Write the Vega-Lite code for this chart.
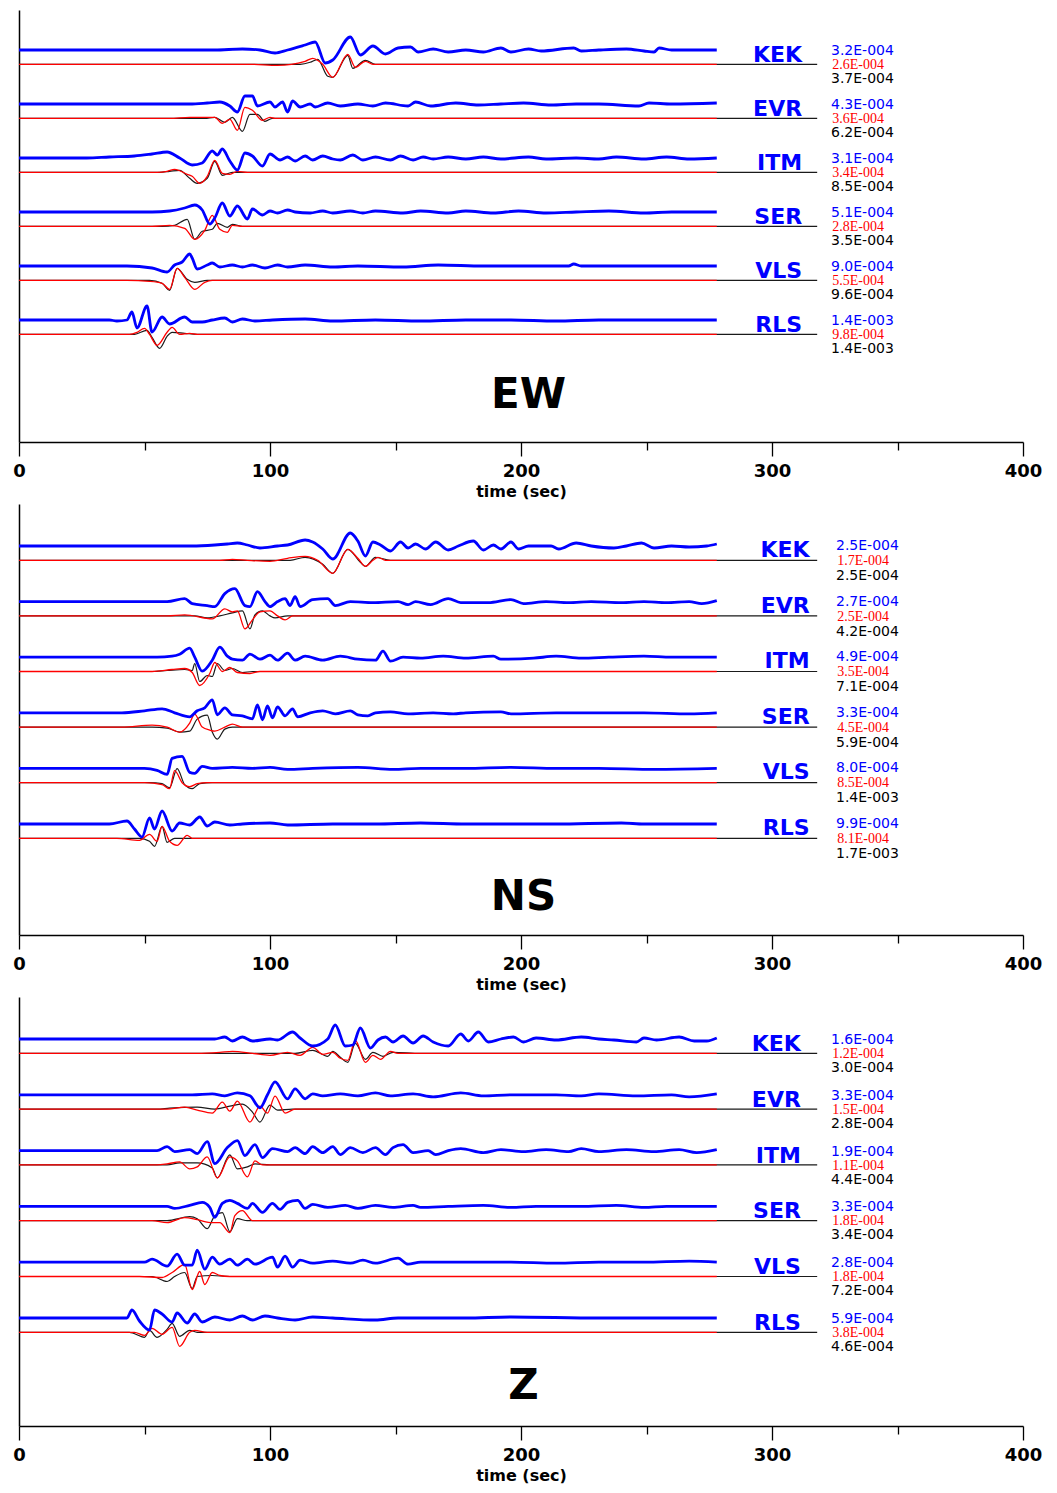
{
  "$schema": "https://vega.github.io/schema/vega-lite/v6.json",
  "background": "white",
  "padding": {"left": 12, "top": 10, "right": 5, "bottom": 5},
  "spacing": 5,
  "config": {"view": {"stroke": null}},
  "datasets": {
    "ew_obs": [
      {"s":"KEK","t":0,"v":0},{"s":"KEK","t":78,"v":0},{"s":"KEK","t":89,"v":1},{"s":"KEK","t":96,"v":0},{"s":"KEK","t":102,"v":-3},{"s":"KEK","t":107,"v":0},{"s":"KEK","t":114,"v":5},{"s":"KEK","t":118,"v":8},{"s":"KEK","t":122,"v":-13},{"s":"KEK","t":125,"v":-10},{"s":"KEK","t":132,"v":13},{"s":"KEK","t":136,"v":-5},{"s":"KEK","t":141,"v":4},{"s":"KEK","t":146,"v":-4},{"s":"KEK","t":151,"v":2},{"s":"KEK","t":156,"v":3},{"s":"KEK","t":159,"v":-2},{"s":"KEK","t":165,"v":1},{"s":"KEK","t":171,"v":-2},{"s":"KEK","t":178,"v":0},{"s":"KEK","t":185,"v":-2},{"s":"KEK","t":192,"v":2},{"s":"KEK","t":196,"v":-2},{"s":"KEK","t":203,"v":1},{"s":"KEK","t":208,"v":-1},{"s":"KEK","t":221,"v":2},{"s":"KEK","t":224,"v":-1},{"s":"KEK","t":231,"v":0},{"s":"KEK","t":242,"v":1},{"s":"KEK","t":249,"v":-1},{"s":"KEK","t":253,"v":-2},{"s":"KEK","t":255,"v":2},{"s":"KEK","t":260,"v":0},{"s":"KEK","t":278,"v":0},
      {"s":"EVR","t":0,"v":0},{"s":"EVR","t":60,"v":0},{"s":"EVR","t":68,"v":0},{"s":"EVR","t":75,"v":1},{"s":"EVR","t":80,"v":2},{"s":"EVR","t":84,"v":-2},{"s":"EVR","t":87,"v":-8},{"s":"EVR","t":90,"v":8},{"s":"EVR","t":93,"v":8},{"s":"EVR","t":95,"v":-2},{"s":"EVR","t":100,"v":2},{"s":"EVR","t":102,"v":-3},{"s":"EVR","t":105,"v":2},{"s":"EVR","t":107,"v":-8},{"s":"EVR","t":109,"v":3},{"s":"EVR","t":112,"v":-3},{"s":"EVR","t":116,"v":0},{"s":"EVR","t":118,"v":-3},{"s":"EVR","t":123,"v":1},{"s":"EVR","t":128,"v":-2},{"s":"EVR","t":135,"v":0},{"s":"EVR","t":141,"v":-2},{"s":"EVR","t":146,"v":1},{"s":"EVR","t":155,"v":-2},{"s":"EVR","t":158,"v":2},{"s":"EVR","t":164,"v":-2},{"s":"EVR","t":174,"v":1},{"s":"EVR","t":183,"v":-1},{"s":"EVR","t":192,"v":0},{"s":"EVR","t":201,"v":1},{"s":"EVR","t":212,"v":-1},{"s":"EVR","t":222,"v":0},{"s":"EVR","t":231,"v":0},{"s":"EVR","t":247,"v":-2},{"s":"EVR","t":251,"v":1},{"s":"EVR","t":260,"v":0},{"s":"EVR","t":278,"v":1},
      {"s":"ITM","t":0,"v":0},{"s":"ITM","t":27,"v":0},{"s":"ITM","t":36,"v":1},{"s":"ITM","t":46,"v":2},{"s":"ITM","t":53,"v":4},{"s":"ITM","t":59,"v":6},{"s":"ITM","t":64,"v":0},{"s":"ITM","t":69,"v":-7},{"s":"ITM","t":73,"v":-5},{"s":"ITM","t":77,"v":7},{"s":"ITM","t":79,"v":3},{"s":"ITM","t":81,"v":9},{"s":"ITM","t":84,"v":-3},{"s":"ITM","t":87,"v":-12},{"s":"ITM","t":90,"v":5},{"s":"ITM","t":93,"v":2},{"s":"ITM","t":97,"v":-8},{"s":"ITM","t":100,"v":4},{"s":"ITM","t":104,"v":-2},{"s":"ITM","t":107,"v":1},{"s":"ITM","t":110,"v":-3},{"s":"ITM","t":114,"v":2},{"s":"ITM","t":117,"v":-2},{"s":"ITM","t":121,"v":2},{"s":"ITM","t":125,"v":-1},{"s":"ITM","t":128,"v":-2},{"s":"ITM","t":133,"v":3},{"s":"ITM","t":137,"v":-2},{"s":"ITM","t":142,"v":1},{"s":"ITM","t":148,"v":-2},{"s":"ITM","t":152,"v":2},{"s":"ITM","t":157,"v":-2},{"s":"ITM","t":161,"v":1},{"s":"ITM","t":165,"v":-1},{"s":"ITM","t":171,"v":1},{"s":"ITM","t":178,"v":-1},{"s":"ITM","t":185,"v":1},{"s":"ITM","t":192,"v":-1},{"s":"ITM","t":203,"v":1},{"s":"ITM","t":210,"v":-1},{"s":"ITM","t":222,"v":0},{"s":"ITM","t":231,"v":-1},{"s":"ITM","t":238,"v":1},{"s":"ITM","t":249,"v":-1},{"s":"ITM","t":258,"v":1},{"s":"ITM","t":267,"v":-1},{"s":"ITM","t":278,"v":0},
      {"s":"SER","t":0,"v":0},{"s":"SER","t":53,"v":0},{"s":"SER","t":60,"v":1},{"s":"SER","t":66,"v":4},{"s":"SER","t":70,"v":7},{"s":"SER","t":73,"v":2},{"s":"SER","t":76,"v":-12},{"s":"SER","t":78,"v":-6},{"s":"SER","t":81,"v":9},{"s":"SER","t":84,"v":-4},{"s":"SER","t":87,"v":6},{"s":"SER","t":91,"v":-7},{"s":"SER","t":93,"v":3},{"s":"SER","t":97,"v":-3},{"s":"SER","t":100,"v":1},{"s":"SER","t":103,"v":-1},{"s":"SER","t":107,"v":2},{"s":"SER","t":110,"v":0},{"s":"SER","t":116,"v":-1},{"s":"SER","t":121,"v":1},{"s":"SER","t":125,"v":-1},{"s":"SER","t":132,"v":1},{"s":"SER","t":137,"v":-1},{"s":"SER","t":142,"v":1},{"s":"SER","t":153,"v":-1},{"s":"SER","t":160,"v":1},{"s":"SER","t":171,"v":-1},{"s":"SER","t":178,"v":1},{"s":"SER","t":189,"v":-1},{"s":"SER","t":199,"v":1},{"s":"SER","t":210,"v":-1},{"s":"SER","t":222,"v":0},{"s":"SER","t":235,"v":1},{"s":"SER","t":249,"v":-1},{"s":"SER","t":260,"v":0},{"s":"SER","t":278,"v":0},
      {"s":"VLS","t":0,"v":0},{"s":"VLS","t":43,"v":0},{"s":"VLS","t":53,"v":-2},{"s":"VLS","t":59,"v":-6},{"s":"VLS","t":62,"v":1},{"s":"VLS","t":65,"v":4},{"s":"VLS","t":68,"v":12},{"s":"VLS","t":69,"v":8},{"s":"VLS","t":71,"v":-3},{"s":"VLS","t":75,"v":1},{"s":"VLS","t":77,"v":3},{"s":"VLS","t":80,"v":-1},{"s":"VLS","t":85,"v":1},{"s":"VLS","t":89,"v":-1},{"s":"VLS","t":93,"v":1},{"s":"VLS","t":98,"v":-2},{"s":"VLS","t":103,"v":1},{"s":"VLS","t":107,"v":-1},{"s":"VLS","t":114,"v":1},{"s":"VLS","t":125,"v":-1},{"s":"VLS","t":135,"v":0},{"s":"VLS","t":153,"v":-1},{"s":"VLS","t":167,"v":1},{"s":"VLS","t":185,"v":0},{"s":"VLS","t":203,"v":0},{"s":"VLS","t":219,"v":0},{"s":"VLS","t":221,"v":2},{"s":"VLS","t":224,"v":0},{"s":"VLS","t":253,"v":0},{"s":"VLS","t":278,"v":0},
      {"s":"RLS","t":0,"v":0},{"s":"RLS","t":36,"v":0},{"s":"RLS","t":39,"v":-1},{"s":"RLS","t":43,"v":0},{"s":"RLS","t":45,"v":8},{"s":"RLS","t":47,"v":-8},{"s":"RLS","t":51,"v":14},{"s":"RLS","t":53,"v":-12},{"s":"RLS","t":57,"v":3},{"s":"RLS","t":60,"v":-4},{"s":"RLS","t":66,"v":3},{"s":"RLS","t":69,"v":-2},{"s":"RLS","t":73,"v":-2},{"s":"RLS","t":77,"v":0},{"s":"RLS","t":82,"v":2},{"s":"RLS","t":85,"v":-2},{"s":"RLS","t":89,"v":1},{"s":"RLS","t":94,"v":-1},{"s":"RLS","t":101,"v":0},{"s":"RLS","t":114,"v":1},{"s":"RLS","t":125,"v":-1},{"s":"RLS","t":142,"v":0},{"s":"RLS","t":160,"v":-1},{"s":"RLS","t":178,"v":0},{"s":"RLS","t":196,"v":0},{"s":"RLS","t":214,"v":-1},{"s":"RLS","t":231,"v":0},{"s":"RLS","t":278,"v":0}
    ],
    "ew_syn_a": [
      {"s":"KEK","t":0,"v":0},{"s":"KEK","t":92,"v":0},{"s":"KEK","t":103,"v":-1},{"s":"KEK","t":114,"v":3},{"s":"KEK","t":117,"v":6},{"s":"KEK","t":121,"v":0},{"s":"KEK","t":125,"v":-13},{"s":"KEK","t":131,"v":10},{"s":"KEK","t":134,"v":-3},{"s":"KEK","t":138,"v":3},{"s":"KEK","t":141,"v":0},{"s":"KEK","t":278,"v":0},
      {"s":"EVR","t":0,"v":0},{"s":"EVR","t":60,"v":0},{"s":"EVR","t":68,"v":1},{"s":"EVR","t":78,"v":1},{"s":"EVR","t":81,"v":-5},{"s":"EVR","t":84,"v":-1},{"s":"EVR","t":87,"v":-12},{"s":"EVR","t":90,"v":11},{"s":"EVR","t":93,"v":8},{"s":"EVR","t":97,"v":-2},{"s":"EVR","t":100,"v":1},{"s":"EVR","t":102,"v":0},{"s":"EVR","t":278,"v":0},
      {"s":"ITM","t":0,"v":0},{"s":"ITM","t":55,"v":0},{"s":"ITM","t":59,"v":1},{"s":"ITM","t":62,"v":3},{"s":"ITM","t":67,"v":-2},{"s":"ITM","t":69,"v":-4},{"s":"ITM","t":72,"v":-11},{"s":"ITM","t":75,"v":-4},{"s":"ITM","t":78,"v":12},{"s":"ITM","t":81,"v":-1},{"s":"ITM","t":84,"v":-2},{"s":"ITM","t":87,"v":1},{"s":"ITM","t":91,"v":0},{"s":"ITM","t":278,"v":0},
      {"s":"SER","t":0,"v":0},{"s":"SER","t":53,"v":0},{"s":"SER","t":60,"v":1},{"s":"SER","t":66,"v":-2},{"s":"SER","t":70,"v":-13},{"s":"SER","t":74,"v":-4},{"s":"SER","t":77,"v":11},{"s":"SER","t":80,"v":-3},{"s":"SER","t":83,"v":-6},{"s":"SER","t":85,"v":1},{"s":"SER","t":89,"v":0},{"s":"SER","t":278,"v":0},
      {"s":"VLS","t":0,"v":0},{"s":"VLS","t":43,"v":0},{"s":"VLS","t":52,"v":-1},{"s":"VLS","t":57,"v":-3},{"s":"VLS","t":60,"v":-9},{"s":"VLS","t":63,"v":12},{"s":"VLS","t":66,"v":3},{"s":"VLS","t":70,"v":-9},{"s":"VLS","t":74,"v":-2},{"s":"VLS","t":77,"v":0},{"s":"VLS","t":278,"v":0},
      {"s":"RLS","t":0,"v":0},{"s":"RLS","t":44,"v":0},{"s":"RLS","t":47,"v":2},{"s":"RLS","t":50,"v":6},{"s":"RLS","t":52,"v":0},{"s":"RLS","t":55,"v":-11},{"s":"RLS","t":59,"v":2},{"s":"RLS","t":61,"v":7},{"s":"RLS","t":64,"v":0},{"s":"RLS","t":68,"v":1},{"s":"RLS","t":71,"v":0},{"s":"RLS","t":278,"v":0}
    ],
    "ew_syn_b": [
      {"s":"KEK","t":0,"v":0},{"s":"KEK","t":112,"v":0},{"s":"KEK","t":116,"v":2},{"s":"KEK","t":119,"v":5},{"s":"KEK","t":123,"v":-12},{"s":"KEK","t":125,"v":-13},{"s":"KEK","t":131,"v":9},{"s":"KEK","t":133,"v":-4},{"s":"KEK","t":138,"v":4},{"s":"KEK","t":142,"v":0},{"s":"KEK","t":318,"v":0},
      {"s":"EVR","t":0,"v":0},{"s":"EVR","t":74,"v":0},{"s":"EVR","t":78,"v":1},{"s":"EVR","t":82,"v":-4},{"s":"EVR","t":85,"v":1},{"s":"EVR","t":89,"v":-13},{"s":"EVR","t":92,"v":4},{"s":"EVR","t":95,"v":4},{"s":"EVR","t":98,"v":-3},{"s":"EVR","t":101,"v":0},{"s":"EVR","t":318,"v":0},
      {"s":"ITM","t":0,"v":0},{"s":"ITM","t":56,"v":0},{"s":"ITM","t":60,"v":1},{"s":"ITM","t":64,"v":2},{"s":"ITM","t":68,"v":-6},{"s":"ITM","t":71,"v":-11},{"s":"ITM","t":75,"v":-6},{"s":"ITM","t":78,"v":11},{"s":"ITM","t":81,"v":-3},{"s":"ITM","t":85,"v":0},{"s":"ITM","t":318,"v":0},
      {"s":"SER","t":0,"v":0},{"s":"SER","t":57,"v":0},{"s":"SER","t":62,"v":1},{"s":"SER","t":67,"v":7},{"s":"SER","t":70,"v":-13},{"s":"SER","t":73,"v":-5},{"s":"SER","t":77,"v":-3},{"s":"SER","t":79,"v":3},{"s":"SER","t":83,"v":-1},{"s":"SER","t":85,"v":2},{"s":"SER","t":89,"v":0},{"s":"SER","t":318,"v":0},
      {"s":"VLS","t":0,"v":0},{"s":"VLS","t":52,"v":0},{"s":"VLS","t":57,"v":-3},{"s":"VLS","t":60,"v":-10},{"s":"VLS","t":63,"v":12},{"s":"VLS","t":67,"v":1},{"s":"VLS","t":70,"v":-2},{"s":"VLS","t":75,"v":0},{"s":"VLS","t":318,"v":0},
      {"s":"RLS","t":0,"v":0},{"s":"RLS","t":46,"v":0},{"s":"RLS","t":51,"v":4},{"s":"RLS","t":53,"v":-3},{"s":"RLS","t":56,"v":-14},{"s":"RLS","t":59,"v":-2},{"s":"RLS","t":61,"v":2},{"s":"RLS","t":66,"v":1},{"s":"RLS","t":71,"v":0},{"s":"RLS","t":318,"v":0}
    ],
    "ns_obs": [
      {"s":"KEK","t":0,"v":0},{"s":"KEK","t":69,"v":0},{"s":"KEK","t":78,"v":1},{"s":"KEK","t":83,"v":2},{"s":"KEK","t":87,"v":3},{"s":"KEK","t":91,"v":1},{"s":"KEK","t":96,"v":-2},{"s":"KEK","t":103,"v":0},{"s":"KEK","t":107,"v":1},{"s":"KEK","t":114,"v":6},{"s":"KEK","t":117,"v":4},{"s":"KEK","t":121,"v":-3},{"s":"KEK","t":125,"v":-13},{"s":"KEK","t":132,"v":13},{"s":"KEK","t":135,"v":5},{"s":"KEK","t":138,"v":-10},{"s":"KEK","t":141,"v":4},{"s":"KEK","t":144,"v":1},{"s":"KEK","t":148,"v":-5},{"s":"KEK","t":152,"v":4},{"s":"KEK","t":155,"v":-2},{"s":"KEK","t":158,"v":2},{"s":"KEK","t":162,"v":-3},{"s":"KEK","t":166,"v":4},{"s":"KEK","t":171,"v":-4},{"s":"KEK","t":175,"v":0},{"s":"KEK","t":181,"v":5},{"s":"KEK","t":185,"v":-4},{"s":"KEK","t":189,"v":1},{"s":"KEK","t":192,"v":-3},{"s":"KEK","t":196,"v":4},{"s":"KEK","t":199,"v":-3},{"s":"KEK","t":203,"v":0},{"s":"KEK","t":212,"v":0},{"s":"KEK","t":215,"v":-3},{"s":"KEK","t":222,"v":3},{"s":"KEK","t":228,"v":0},{"s":"KEK","t":237,"v":-2},{"s":"KEK","t":242,"v":0},{"s":"KEK","t":248,"v":3},{"s":"KEK","t":253,"v":-2},{"s":"KEK","t":260,"v":0},{"s":"KEK","t":267,"v":-1},{"s":"KEK","t":274,"v":0},{"s":"KEK","t":278,"v":2},
      {"s":"EVR","t":0,"v":0},{"s":"EVR","t":59,"v":0},{"s":"EVR","t":66,"v":3},{"s":"EVR","t":69,"v":-2},{"s":"EVR","t":75,"v":-4},{"s":"EVR","t":78,"v":-5},{"s":"EVR","t":82,"v":8},{"s":"EVR","t":86,"v":13},{"s":"EVR","t":90,"v":-4},{"s":"EVR","t":92,"v":-5},{"s":"EVR","t":95,"v":10},{"s":"EVR","t":98,"v":0},{"s":"EVR","t":100,"v":-5},{"s":"EVR","t":103,"v":0},{"s":"EVR","t":106,"v":3},{"s":"EVR","t":108,"v":-4},{"s":"EVR","t":110,"v":5},{"s":"EVR","t":112,"v":-5},{"s":"EVR","t":117,"v":2},{"s":"EVR","t":123,"v":3},{"s":"EVR","t":126,"v":-4},{"s":"EVR","t":132,"v":0},{"s":"EVR","t":141,"v":-1},{"s":"EVR","t":151,"v":0},{"s":"EVR","t":155,"v":-3},{"s":"EVR","t":158,"v":0},{"s":"EVR","t":164,"v":-3},{"s":"EVR","t":171,"v":3},{"s":"EVR","t":176,"v":-1},{"s":"EVR","t":187,"v":-1},{"s":"EVR","t":196,"v":2},{"s":"EVR","t":201,"v":-2},{"s":"EVR","t":210,"v":0},{"s":"EVR","t":219,"v":-1},{"s":"EVR","t":228,"v":0},{"s":"EVR","t":240,"v":-1},{"s":"EVR","t":249,"v":0},{"s":"EVR","t":258,"v":-1},{"s":"EVR","t":267,"v":0},{"s":"EVR","t":272,"v":-2},{"s":"EVR","t":278,"v":1},
      {"s":"ITM","t":0,"v":0},{"s":"ITM","t":55,"v":0},{"s":"ITM","t":61,"v":1},{"s":"ITM","t":64,"v":3},{"s":"ITM","t":68,"v":9},{"s":"ITM","t":70,"v":0},{"s":"ITM","t":73,"v":-14},{"s":"ITM","t":77,"v":-3},{"s":"ITM","t":80,"v":10},{"s":"ITM","t":83,"v":1},{"s":"ITM","t":85,"v":-2},{"s":"ITM","t":89,"v":-3},{"s":"ITM","t":92,"v":3},{"s":"ITM","t":96,"v":-2},{"s":"ITM","t":100,"v":2},{"s":"ITM","t":103,"v":-3},{"s":"ITM","t":107,"v":4},{"s":"ITM","t":110,"v":-3},{"s":"ITM","t":114,"v":1},{"s":"ITM","t":121,"v":-3},{"s":"ITM","t":128,"v":1},{"s":"ITM","t":135,"v":-2},{"s":"ITM","t":142,"v":-3},{"s":"ITM","t":145,"v":6},{"s":"ITM","t":148,"v":-4},{"s":"ITM","t":153,"v":0},{"s":"ITM","t":160,"v":-1},{"s":"ITM","t":169,"v":1},{"s":"ITM","t":178,"v":-1},{"s":"ITM","t":189,"v":1},{"s":"ITM","t":192,"v":-2},{"s":"ITM","t":205,"v":-1},{"s":"ITM","t":214,"v":1},{"s":"ITM","t":224,"v":-1},{"s":"ITM","t":235,"v":0},{"s":"ITM","t":249,"v":1},{"s":"ITM","t":260,"v":0},{"s":"ITM","t":278,"v":0},
      {"s":"SER","t":0,"v":0},{"s":"SER","t":41,"v":0},{"s":"SER","t":50,"v":2},{"s":"SER","t":57,"v":4},{"s":"SER","t":62,"v":0},{"s":"SER","t":68,"v":-4},{"s":"SER","t":71,"v":2},{"s":"SER","t":74,"v":5},{"s":"SER","t":77,"v":13},{"s":"SER","t":79,"v":-2},{"s":"SER","t":82,"v":5},{"s":"SER","t":85,"v":-2},{"s":"SER","t":89,"v":-3},{"s":"SER","t":93,"v":-6},{"s":"SER","t":95,"v":8},{"s":"SER","t":97,"v":-7},{"s":"SER","t":99,"v":7},{"s":"SER","t":101,"v":-5},{"s":"SER","t":103,"v":6},{"s":"SER","t":106,"v":-3},{"s":"SER","t":109,"v":4},{"s":"SER","t":111,"v":-4},{"s":"SER","t":116,"v":0},{"s":"SER","t":121,"v":2},{"s":"SER","t":126,"v":-1},{"s":"SER","t":132,"v":2},{"s":"SER","t":135,"v":-2},{"s":"SER","t":139,"v":-3},{"s":"SER","t":142,"v":0},{"s":"SER","t":148,"v":1},{"s":"SER","t":155,"v":-1},{"s":"SER","t":165,"v":0},{"s":"SER","t":173,"v":-1},{"s":"SER","t":178,"v":0},{"s":"SER","t":192,"v":1},{"s":"SER","t":196,"v":-1},{"s":"SER","t":214,"v":0},{"s":"SER","t":231,"v":0},{"s":"SER","t":249,"v":0},{"s":"SER","t":267,"v":-1},{"s":"SER","t":278,"v":0},
      {"s":"VLS","t":0,"v":0},{"s":"VLS","t":50,"v":0},{"s":"VLS","t":55,"v":-2},{"s":"VLS","t":59,"v":-6},{"s":"VLS","t":61,"v":10},{"s":"VLS","t":65,"v":12},{"s":"VLS","t":68,"v":-4},{"s":"VLS","t":70,"v":-5},{"s":"VLS","t":73,"v":2},{"s":"VLS","t":77,"v":0},{"s":"VLS","t":85,"v":1},{"s":"VLS","t":93,"v":0},{"s":"VLS","t":100,"v":1},{"s":"VLS","t":107,"v":-1},{"s":"VLS","t":117,"v":0},{"s":"VLS","t":135,"v":1},{"s":"VLS","t":149,"v":-1},{"s":"VLS","t":160,"v":0},{"s":"VLS","t":178,"v":0},{"s":"VLS","t":196,"v":1},{"s":"VLS","t":214,"v":0},{"s":"VLS","t":231,"v":0},{"s":"VLS","t":253,"v":-1},{"s":"VLS","t":278,"v":0},
      {"s":"RLS","t":0,"v":0},{"s":"RLS","t":36,"v":0},{"s":"RLS","t":43,"v":3},{"s":"RLS","t":46,"v":-5},{"s":"RLS","t":49,"v":-13},{"s":"RLS","t":52,"v":6},{"s":"RLS","t":54,"v":-5},{"s":"RLS","t":57,"v":13},{"s":"RLS","t":61,"v":-7},{"s":"RLS","t":64,"v":1},{"s":"RLS","t":68,"v":-1},{"s":"RLS","t":72,"v":7},{"s":"RLS","t":75,"v":-2},{"s":"RLS","t":78,"v":2},{"s":"RLS","t":84,"v":-1},{"s":"RLS","t":89,"v":0},{"s":"RLS","t":100,"v":1},{"s":"RLS","t":107,"v":-1},{"s":"RLS","t":125,"v":0},{"s":"RLS","t":142,"v":0},{"s":"RLS","t":160,"v":1},{"s":"RLS","t":178,"v":0},{"s":"RLS","t":214,"v":0},{"s":"RLS","t":240,"v":1},{"s":"RLS","t":249,"v":0},{"s":"RLS","t":278,"v":0}
    ],
    "ns_syn_a": [
      {"s":"KEK","t":0,"v":0},{"s":"KEK","t":80,"v":0},{"s":"KEK","t":85,"v":1},{"s":"KEK","t":91,"v":0},{"s":"KEK","t":100,"v":-1},{"s":"KEK","t":107,"v":2},{"s":"KEK","t":114,"v":4},{"s":"KEK","t":119,"v":0},{"s":"KEK","t":125,"v":-13},{"s":"KEK","t":131,"v":11},{"s":"KEK","t":135,"v":2},{"s":"KEK","t":138,"v":-6},{"s":"KEK","t":141,"v":0},{"s":"KEK","t":143,"v":3},{"s":"KEK","t":146,"v":0},{"s":"KEK","t":278,"v":0},
      {"s":"EVR","t":0,"v":0},{"s":"EVR","t":59,"v":0},{"s":"EVR","t":66,"v":1},{"s":"EVR","t":77,"v":-3},{"s":"EVR","t":82,"v":7},{"s":"EVR","t":85,"v":4},{"s":"EVR","t":87,"v":5},{"s":"EVR","t":90,"v":-13},{"s":"EVR","t":93,"v":-4},{"s":"EVR","t":96,"v":4},{"s":"EVR","t":100,"v":5},{"s":"EVR","t":103,"v":0},{"s":"EVR","t":106,"v":-4},{"s":"EVR","t":109,"v":0},{"s":"EVR","t":278,"v":0},
      {"s":"ITM","t":0,"v":0},{"s":"ITM","t":53,"v":0},{"s":"ITM","t":61,"v":2},{"s":"ITM","t":66,"v":3},{"s":"ITM","t":69,"v":-1},{"s":"ITM","t":72,"v":-14},{"s":"ITM","t":76,"v":-2},{"s":"ITM","t":78,"v":9},{"s":"ITM","t":81,"v":0},{"s":"ITM","t":84,"v":4},{"s":"ITM","t":87,"v":-1},{"s":"ITM","t":92,"v":-2},{"s":"ITM","t":96,"v":0},{"s":"ITM","t":278,"v":0},
      {"s":"SER","t":0,"v":0},{"s":"SER","t":41,"v":0},{"s":"SER","t":53,"v":2},{"s":"SER","t":59,"v":0},{"s":"SER","t":64,"v":-5},{"s":"SER","t":68,"v":4},{"s":"SER","t":70,"v":13},{"s":"SER","t":73,"v":0},{"s":"SER","t":76,"v":-3},{"s":"SER","t":78,"v":-4},{"s":"SER","t":82,"v":0},{"s":"SER","t":85,"v":3},{"s":"SER","t":89,"v":0},{"s":"SER","t":278,"v":0},
      {"s":"VLS","t":0,"v":0},{"s":"VLS","t":50,"v":0},{"s":"VLS","t":57,"v":-2},{"s":"VLS","t":60,"v":-6},{"s":"VLS","t":62,"v":12},{"s":"VLS","t":65,"v":0},{"s":"VLS","t":68,"v":-4},{"s":"VLS","t":71,"v":-1},{"s":"VLS","t":75,"v":0},{"s":"VLS","t":278,"v":0},
      {"s":"RLS","t":0,"v":0},{"s":"RLS","t":39,"v":0},{"s":"RLS","t":48,"v":-2},{"s":"RLS","t":52,"v":4},{"s":"RLS","t":55,"v":-3},{"s":"RLS","t":57,"v":12},{"s":"RLS","t":60,"v":-3},{"s":"RLS","t":63,"v":-7},{"s":"RLS","t":67,"v":3},{"s":"RLS","t":69,"v":0},{"s":"RLS","t":278,"v":0}
    ],
    "ns_syn_b": [
      {"s":"KEK","t":0,"v":0},{"s":"KEK","t":108,"v":0},{"s":"KEK","t":114,"v":3},{"s":"KEK","t":121,"v":-4},{"s":"KEK","t":125,"v":-13},{"s":"KEK","t":131,"v":11},{"s":"KEK","t":136,"v":-2},{"s":"KEK","t":138,"v":-6},{"s":"KEK","t":142,"v":3},{"s":"KEK","t":148,"v":0},{"s":"KEK","t":318,"v":0},
      {"s":"EVR","t":0,"v":0},{"s":"EVR","t":70,"v":0},{"s":"EVR","t":75,"v":-2},{"s":"EVR","t":80,"v":0},{"s":"EVR","t":85,"v":3},{"s":"EVR","t":89,"v":5},{"s":"EVR","t":92,"v":-13},{"s":"EVR","t":94,"v":1},{"s":"EVR","t":97,"v":5},{"s":"EVR","t":100,"v":0},{"s":"EVR","t":102,"v":-2},{"s":"EVR","t":107,"v":0},{"s":"EVR","t":318,"v":0},
      {"s":"ITM","t":0,"v":0},{"s":"ITM","t":53,"v":0},{"s":"ITM","t":59,"v":1},{"s":"ITM","t":66,"v":2},{"s":"ITM","t":69,"v":1},{"s":"ITM","t":70,"v":8},{"s":"ITM","t":72,"v":-10},{"s":"ITM","t":75,"v":-4},{"s":"ITM","t":77,"v":-5},{"s":"ITM","t":79,"v":8},{"s":"ITM","t":82,"v":1},{"s":"ITM","t":85,"v":3},{"s":"ITM","t":89,"v":-1},{"s":"ITM","t":93,"v":0},{"s":"ITM","t":318,"v":0},
      {"s":"SER","t":0,"v":0},{"s":"SER","t":53,"v":0},{"s":"SER","t":59,"v":-1},{"s":"SER","t":64,"v":-5},{"s":"SER","t":68,"v":-4},{"s":"SER","t":71,"v":8},{"s":"SER","t":75,"v":12},{"s":"SER","t":77,"v":-5},{"s":"SER","t":79,"v":-12},{"s":"SER","t":82,"v":-2},{"s":"SER","t":85,"v":0},{"s":"SER","t":318,"v":0},
      {"s":"VLS","t":0,"v":0},{"s":"VLS","t":52,"v":0},{"s":"VLS","t":57,"v":-1},{"s":"VLS","t":60,"v":-5},{"s":"VLS","t":63,"v":14},{"s":"VLS","t":66,"v":-2},{"s":"VLS","t":69,"v":-6},{"s":"VLS","t":72,"v":-1},{"s":"VLS","t":77,"v":0},{"s":"VLS","t":318,"v":0},
      {"s":"RLS","t":0,"v":0},{"s":"RLS","t":48,"v":0},{"s":"RLS","t":52,"v":-3},{"s":"RLS","t":54,"v":-8},{"s":"RLS","t":57,"v":12},{"s":"RLS","t":59,"v":-4},{"s":"RLS","t":62,"v":0},{"s":"RLS","t":318,"v":0}
    ],
    "z_obs": [
      {"s":"KEK","t":0,"v":0},{"s":"KEK","t":70,"v":0},{"s":"KEK","t":78,"v":0},{"s":"KEK","t":82,"v":2},{"s":"KEK","t":85,"v":-2},{"s":"KEK","t":89,"v":2},{"s":"KEK","t":93,"v":-2},{"s":"KEK","t":100,"v":0},{"s":"KEK","t":103,"v":-1},{"s":"KEK","t":109,"v":7},{"s":"KEK","t":112,"v":1},{"s":"KEK","t":117,"v":-7},{"s":"KEK","t":123,"v":0},{"s":"KEK","t":126,"v":14},{"s":"KEK","t":130,"v":-7},{"s":"KEK","t":133,"v":-6},{"s":"KEK","t":136,"v":11},{"s":"KEK","t":140,"v":-9},{"s":"KEK","t":143,"v":-1},{"s":"KEK","t":146,"v":2},{"s":"KEK","t":149,"v":-3},{"s":"KEK","t":153,"v":3},{"s":"KEK","t":157,"v":-4},{"s":"KEK","t":161,"v":3},{"s":"KEK","t":165,"v":-3},{"s":"KEK","t":171,"v":-7},{"s":"KEK","t":176,"v":5},{"s":"KEK","t":179,"v":-2},{"s":"KEK","t":183,"v":7},{"s":"KEK","t":187,"v":-3},{"s":"KEK","t":192,"v":0},{"s":"KEK","t":197,"v":2},{"s":"KEK","t":201,"v":-3},{"s":"KEK","t":206,"v":1},{"s":"KEK","t":214,"v":-1},{"s":"KEK","t":224,"v":2},{"s":"KEK","t":231,"v":0},{"s":"KEK","t":237,"v":-1},{"s":"KEK","t":246,"v":-3},{"s":"KEK","t":249,"v":1},{"s":"KEK","t":254,"v":-1},{"s":"KEK","t":263,"v":2},{"s":"KEK","t":269,"v":-2},{"s":"KEK","t":274,"v":-2},{"s":"KEK","t":278,"v":1},
      {"s":"EVR","t":0,"v":0},{"s":"EVR","t":69,"v":0},{"s":"EVR","t":77,"v":1},{"s":"EVR","t":82,"v":-1},{"s":"EVR","t":87,"v":2},{"s":"EVR","t":92,"v":-1},{"s":"EVR","t":96,"v":-13},{"s":"EVR","t":99,"v":0},{"s":"EVR","t":102,"v":13},{"s":"EVR","t":107,"v":-4},{"s":"EVR","t":110,"v":6},{"s":"EVR","t":114,"v":-4},{"s":"EVR","t":117,"v":1},{"s":"EVR","t":121,"v":-1},{"s":"EVR","t":128,"v":1},{"s":"EVR","t":135,"v":-1},{"s":"EVR","t":142,"v":2},{"s":"EVR","t":148,"v":-1},{"s":"EVR","t":157,"v":1},{"s":"EVR","t":165,"v":-2},{"s":"EVR","t":176,"v":2},{"s":"EVR","t":185,"v":-1},{"s":"EVR","t":196,"v":0},{"s":"EVR","t":214,"v":0},{"s":"EVR","t":224,"v":-1},{"s":"EVR","t":231,"v":1},{"s":"EVR","t":246,"v":-1},{"s":"EVR","t":260,"v":0},{"s":"EVR","t":267,"v":-2},{"s":"EVR","t":278,"v":1},
      {"s":"ITM","t":0,"v":0},{"s":"ITM","t":55,"v":0},{"s":"ITM","t":59,"v":4},{"s":"ITM","t":62,"v":-1},{"s":"ITM","t":68,"v":1},{"s":"ITM","t":71,"v":-3},{"s":"ITM","t":75,"v":9},{"s":"ITM","t":78,"v":-13},{"s":"ITM","t":83,"v":3},{"s":"ITM","t":87,"v":10},{"s":"ITM","t":90,"v":-5},{"s":"ITM","t":94,"v":6},{"s":"ITM","t":97,"v":-7},{"s":"ITM","t":101,"v":2},{"s":"ITM","t":107,"v":-1},{"s":"ITM","t":110,"v":3},{"s":"ITM","t":114,"v":-3},{"s":"ITM","t":117,"v":4},{"s":"ITM","t":121,"v":-2},{"s":"ITM","t":125,"v":4},{"s":"ITM","t":128,"v":-4},{"s":"ITM","t":132,"v":3},{"s":"ITM","t":137,"v":-2},{"s":"ITM","t":142,"v":3},{"s":"ITM","t":146,"v":-4},{"s":"ITM","t":149,"v":3},{"s":"ITM","t":153,"v":6},{"s":"ITM","t":157,"v":-2},{"s":"ITM","t":163,"v":0},{"s":"ITM","t":166,"v":-4},{"s":"ITM","t":171,"v":0},{"s":"ITM","t":176,"v":2},{"s":"ITM","t":185,"v":-2},{"s":"ITM","t":192,"v":1},{"s":"ITM","t":201,"v":-1},{"s":"ITM","t":210,"v":1},{"s":"ITM","t":219,"v":-1},{"s":"ITM","t":224,"v":2},{"s":"ITM","t":231,"v":-1},{"s":"ITM","t":242,"v":1},{"s":"ITM","t":253,"v":-1},{"s":"ITM","t":263,"v":1},{"s":"ITM","t":270,"v":-2},{"s":"ITM","t":278,"v":1},
      {"s":"SER","t":0,"v":0},{"s":"SER","t":59,"v":0},{"s":"SER","t":62,"v":-2},{"s":"SER","t":68,"v":1},{"s":"SER","t":73,"v":4},{"s":"SER","t":76,"v":-1},{"s":"SER","t":78,"v":-11},{"s":"SER","t":81,"v":3},{"s":"SER","t":84,"v":6},{"s":"SER","t":87,"v":3},{"s":"SER","t":91,"v":-2},{"s":"SER","t":93,"v":3},{"s":"SER","t":97,"v":-6},{"s":"SER","t":101,"v":3},{"s":"SER","t":104,"v":-3},{"s":"SER","t":107,"v":4},{"s":"SER","t":111,"v":6},{"s":"SER","t":114,"v":-2},{"s":"SER","t":117,"v":2},{"s":"SER","t":123,"v":-1},{"s":"SER","t":130,"v":1},{"s":"SER","t":135,"v":-2},{"s":"SER","t":142,"v":1},{"s":"SER","t":149,"v":-1},{"s":"SER","t":157,"v":1},{"s":"SER","t":160,"v":-1},{"s":"SER","t":171,"v":0},{"s":"SER","t":185,"v":1},{"s":"SER","t":196,"v":-1},{"s":"SER","t":206,"v":0},{"s":"SER","t":224,"v":0},{"s":"SER","t":238,"v":1},{"s":"SER","t":249,"v":-1},{"s":"SER","t":258,"v":0},{"s":"SER","t":278,"v":0},
      {"s":"VLS","t":0,"v":0},{"s":"VLS","t":50,"v":0},{"s":"VLS","t":53,"v":3},{"s":"VLS","t":59,"v":-4},{"s":"VLS","t":63,"v":8},{"s":"VLS","t":66,"v":-3},{"s":"VLS","t":69,"v":-3},{"s":"VLS","t":71,"v":12},{"s":"VLS","t":74,"v":-7},{"s":"VLS","t":77,"v":5},{"s":"VLS","t":80,"v":-2},{"s":"VLS","t":84,"v":3},{"s":"VLS","t":87,"v":-3},{"s":"VLS","t":91,"v":3},{"s":"VLS","t":94,"v":-2},{"s":"VLS","t":101,"v":5},{"s":"VLS","t":103,"v":-5},{"s":"VLS","t":106,"v":6},{"s":"VLS","t":109,"v":-5},{"s":"VLS","t":112,"v":2},{"s":"VLS","t":117,"v":-1},{"s":"VLS","t":125,"v":1},{"s":"VLS","t":132,"v":-1},{"s":"VLS","t":137,"v":2},{"s":"VLS","t":142,"v":-1},{"s":"VLS","t":151,"v":4},{"s":"VLS","t":155,"v":-2},{"s":"VLS","t":160,"v":0},{"s":"VLS","t":178,"v":0},{"s":"VLS","t":196,"v":0},{"s":"VLS","t":214,"v":-1},{"s":"VLS","t":231,"v":0},{"s":"VLS","t":249,"v":0},{"s":"VLS","t":267,"v":1},{"s":"VLS","t":278,"v":0},
      {"s":"RLS","t":0,"v":0},{"s":"RLS","t":36,"v":0},{"s":"RLS","t":43,"v":0},{"s":"RLS","t":45,"v":8},{"s":"RLS","t":48,"v":-3},{"s":"RLS","t":52,"v":-12},{"s":"RLS","t":54,"v":8},{"s":"RLS","t":57,"v":4},{"s":"RLS","t":61,"v":-4},{"s":"RLS","t":63,"v":5},{"s":"RLS","t":67,"v":-5},{"s":"RLS","t":70,"v":4},{"s":"RLS","t":73,"v":-4},{"s":"RLS","t":78,"v":1},{"s":"RLS","t":84,"v":-2},{"s":"RLS","t":89,"v":2},{"s":"RLS","t":93,"v":-2},{"s":"RLS","t":98,"v":2},{"s":"RLS","t":103,"v":0},{"s":"RLS","t":110,"v":-2},{"s":"RLS","t":117,"v":1},{"s":"RLS","t":125,"v":0},{"s":"RLS","t":142,"v":-2},{"s":"RLS","t":151,"v":0},{"s":"RLS","t":178,"v":0},{"s":"RLS","t":196,"v":1},{"s":"RLS","t":231,"v":0},{"s":"RLS","t":278,"v":0}
    ],
    "z_syn_a": [
      {"s":"KEK","t":0,"v":0},{"s":"KEK","t":71,"v":0},{"s":"KEK","t":80,"v":1},{"s":"KEK","t":85,"v":2},{"s":"KEK","t":93,"v":0},{"s":"KEK","t":100,"v":-2},{"s":"KEK","t":107,"v":1},{"s":"KEK","t":112,"v":-2},{"s":"KEK","t":117,"v":6},{"s":"KEK","t":121,"v":-1},{"s":"KEK","t":125,"v":1},{"s":"KEK","t":128,"v":-5},{"s":"KEK","t":131,"v":-7},{"s":"KEK","t":134,"v":13},{"s":"KEK","t":138,"v":-9},{"s":"KEK","t":141,"v":-2},{"s":"KEK","t":144,"v":-6},{"s":"KEK","t":148,"v":2},{"s":"KEK","t":151,"v":0},{"s":"KEK","t":278,"v":0},
      {"s":"EVR","t":0,"v":0},{"s":"EVR","t":59,"v":0},{"s":"EVR","t":66,"v":2},{"s":"EVR","t":71,"v":-1},{"s":"EVR","t":77,"v":-4},{"s":"EVR","t":81,"v":7},{"s":"EVR","t":84,"v":-2},{"s":"EVR","t":87,"v":8},{"s":"EVR","t":92,"v":-13},{"s":"EVR","t":96,"v":3},{"s":"EVR","t":99,"v":-4},{"s":"EVR","t":102,"v":13},{"s":"EVR","t":106,"v":-4},{"s":"EVR","t":110,"v":0},{"s":"EVR","t":278,"v":0},
      {"s":"ITM","t":0,"v":0},{"s":"ITM","t":55,"v":0},{"s":"ITM","t":59,"v":1},{"s":"ITM","t":64,"v":3},{"s":"ITM","t":68,"v":-4},{"s":"ITM","t":71,"v":-2},{"s":"ITM","t":75,"v":8},{"s":"ITM","t":79,"v":-13},{"s":"ITM","t":84,"v":8},{"s":"ITM","t":87,"v":4},{"s":"ITM","t":91,"v":-12},{"s":"ITM","t":94,"v":4},{"s":"ITM","t":97,"v":0},{"s":"ITM","t":278,"v":0},
      {"s":"SER","t":0,"v":0},{"s":"SER","t":53,"v":0},{"s":"SER","t":59,"v":-2},{"s":"SER","t":66,"v":3},{"s":"SER","t":71,"v":1},{"s":"SER","t":77,"v":-2},{"s":"SER","t":80,"v":-2},{"s":"SER","t":84,"v":-12},{"s":"SER","t":86,"v":5},{"s":"SER","t":89,"v":10},{"s":"SER","t":93,"v":0},{"s":"SER","t":278,"v":0},
      {"s":"VLS","t":0,"v":0},{"s":"VLS","t":48,"v":0},{"s":"VLS","t":57,"v":-1},{"s":"VLS","t":61,"v":4},{"s":"VLS","t":66,"v":12},{"s":"VLS","t":69,"v":-13},{"s":"VLS","t":72,"v":5},{"s":"VLS","t":74,"v":-8},{"s":"VLS","t":77,"v":4},{"s":"VLS","t":80,"v":1},{"s":"VLS","t":84,"v":0},{"s":"VLS","t":278,"v":0},
      {"s":"RLS","t":0,"v":0},{"s":"RLS","t":46,"v":0},{"s":"RLS","t":50,"v":-3},{"s":"RLS","t":53,"v":4},{"s":"RLS","t":57,"v":-2},{"s":"RLS","t":61,"v":5},{"s":"RLS","t":64,"v":-14},{"s":"RLS","t":68,"v":0},{"s":"RLS","t":70,"v":2},{"s":"RLS","t":75,"v":0},{"s":"RLS","t":278,"v":0}
    ],
    "z_syn_b": [
      {"s":"KEK","t":0,"v":0},{"s":"KEK","t":110,"v":0},{"s":"KEK","t":117,"v":3},{"s":"KEK","t":123,"v":-3},{"s":"KEK","t":125,"v":2},{"s":"KEK","t":128,"v":-4},{"s":"KEK","t":131,"v":-9},{"s":"KEK","t":134,"v":10},{"s":"KEK","t":138,"v":-6},{"s":"KEK","t":141,"v":1},{"s":"KEK","t":145,"v":-3},{"s":"KEK","t":149,"v":1},{"s":"KEK","t":160,"v":0},{"s":"KEK","t":318,"v":0},
      {"s":"EVR","t":0,"v":0},{"s":"EVR","t":55,"v":0},{"s":"EVR","t":60,"v":1},{"s":"EVR","t":71,"v":2},{"s":"EVR","t":78,"v":0},{"s":"EVR","t":84,"v":3},{"s":"EVR","t":89,"v":5},{"s":"EVR","t":93,"v":-3},{"s":"EVR","t":96,"v":-13},{"s":"EVR","t":100,"v":4},{"s":"EVR","t":103,"v":-1},{"s":"EVR","t":109,"v":0},{"s":"EVR","t":318,"v":0},
      {"s":"ITM","t":0,"v":0},{"s":"ITM","t":59,"v":0},{"s":"ITM","t":64,"v":2},{"s":"ITM","t":71,"v":2},{"s":"ITM","t":77,"v":-3},{"s":"ITM","t":79,"v":-13},{"s":"ITM","t":84,"v":10},{"s":"ITM","t":87,"v":-4},{"s":"ITM","t":91,"v":-2},{"s":"ITM","t":94,"v":1},{"s":"ITM","t":100,"v":0},{"s":"ITM","t":318,"v":0},
      {"s":"SER","t":0,"v":0},{"s":"SER","t":59,"v":0},{"s":"SER","t":68,"v":4},{"s":"SER","t":71,"v":2},{"s":"SER","t":75,"v":-8},{"s":"SER","t":78,"v":5},{"s":"SER","t":81,"v":8},{"s":"SER","t":84,"v":-11},{"s":"SER","t":87,"v":2},{"s":"SER","t":91,"v":0},{"s":"SER","t":318,"v":0},
      {"s":"VLS","t":0,"v":0},{"s":"VLS","t":53,"v":0},{"s":"VLS","t":59,"v":-5},{"s":"VLS","t":62,"v":0},{"s":"VLS","t":66,"v":4},{"s":"VLS","t":69,"v":-12},{"s":"VLS","t":71,"v":0},{"s":"VLS","t":77,"v":1},{"s":"VLS","t":84,"v":0},{"s":"VLS","t":318,"v":0},
      {"s":"RLS","t":0,"v":0},{"s":"RLS","t":44,"v":0},{"s":"RLS","t":50,"v":-5},{"s":"RLS","t":52,"v":2},{"s":"RLS","t":55,"v":-5},{"s":"RLS","t":59,"v":3},{"s":"RLS","t":61,"v":9},{"s":"RLS","t":64,"v":-4},{"s":"RLS","t":68,"v":2},{"s":"RLS","t":71,"v":0},{"s":"RLS","t":318,"v":0}
    ],
    "ew_amp": [
      {"s":"KEK","b":"3.2E-004","r":"2.6E-004","k":"3.7E-004"},
      {"s":"EVR","b":"4.3E-004","r":"3.6E-004","k":"6.2E-004"},
      {"s":"ITM","b":"3.1E-004","r":"3.4E-004","k":"8.5E-004"},
      {"s":"SER","b":"5.1E-004","r":"2.8E-004","k":"3.5E-004"},
      {"s":"VLS","b":"9.0E-004","r":"5.5E-004","k":"9.6E-004"},
      {"s":"RLS","b":"1.4E-003","r":"9.8E-004","k":"1.4E-003"}
    ],
    "ns_amp": [
      {"s":"KEK","b":"2.5E-004","r":"1.7E-004","k":"2.5E-004"},
      {"s":"EVR","b":"2.7E-004","r":"2.5E-004","k":"4.2E-004"},
      {"s":"ITM","b":"4.9E-004","r":"3.5E-004","k":"7.1E-004"},
      {"s":"SER","b":"3.3E-004","r":"4.5E-004","k":"5.9E-004"},
      {"s":"VLS","b":"8.0E-004","r":"8.5E-004","k":"1.4E-003"},
      {"s":"RLS","b":"9.9E-004","r":"8.1E-004","k":"1.7E-003"}
    ],
    "z_amp": [
      {"s":"KEK","b":"1.6E-004","r":"1.2E-004","k":"3.0E-004"},
      {"s":"EVR","b":"3.3E-004","r":"1.5E-004","k":"2.8E-004"},
      {"s":"ITM","b":"1.9E-004","r":"1.1E-004","k":"4.4E-004"},
      {"s":"SER","b":"3.3E-004","r":"1.8E-004","k":"3.4E-004"},
      {"s":"VLS","b":"2.8E-004","r":"1.8E-004","k":"7.2E-004"},
      {"s":"RLS","b":"5.9E-004","r":"3.8E-004","k":"4.6E-004"}
    ]
  },
  "vconcat": [
    {
      "width": 1004, "height": 432,
      "layer": [
        {"data": {"name": "ew_syn_b"},
         "mark": {"type": "line", "color": "#1a1a1a", "strokeWidth": 1.2, "interpolate": "monotone", "orient": "vertical"},
         "encoding": {
           "x": {"field": "t", "type": "quantitative", "scale": {"domain": [0, 400], "nice": false, "zero": false},
                 "axis": {"values": [0, 50, 100, 150, 200, 250, 300, 350, 400], "labelExpr": "datum.value % 100 === 0 ? datum.label : ''",
                          "tickSize": {"condition": {"test": "datum.value % 100 === 0", "value": 14}, "value": 8},
                          "tickColor": "#000", "tickWidth": 1.3, "domainColor": "#000", "domainWidth": 1.3, "grid": false,
                          "labelFont": "DejaVu Sans", "labelFontWeight": "bold", "labelFontSize": 18, "labelColor": "#000", "labelPadding": 6,
                          "labelFlush": false, "labelOverlap": false,
                          "title": "time (sec)", "titleFont": "DejaVu Sans", "titleFontWeight": "bold", "titleFontSize": 16, "titleColor": "#000", "titlePadding": 3}},
           "y": {"field": "s", "type": "nominal",
                 "scale": {"domain": ["KEK", "EVR", "ITM", "SER", "VLS", "RLS", "EW"], "paddingInner": 0, "paddingOuter": 0.5, "align": 0, "round": false},
                 "axis": {"labels": false, "ticks": false, "title": null, "domain": true, "domainColor": "#000", "domainWidth": 1.5, "grid": false}},
           "yOffset": {"field": "v", "type": "quantitative", "scale": {"domain": [-10, 10], "range": [64.3, 44.3]}},
           "detail": {"field": "s"},
           "order": {"field": "t", "type": "quantitative"}
         }},
        {"data": {"name": "ew_syn_a"},
         "mark": {"type": "line", "color": "#ff0000", "strokeWidth": 1.3, "interpolate": "monotone", "orient": "vertical"},
         "encoding": {
           "x": {"field": "t", "type": "quantitative"},
           "y": {"field": "s", "type": "nominal"},
           "yOffset": {"field": "v", "type": "quantitative", "scale": {"domain": [-10, 10], "range": [64.3, 44.3]}},
           "detail": {"field": "s"},
           "order": {"field": "t", "type": "quantitative"}
         }},
        {"data": {"name": "ew_obs"},
         "mark": {"type": "line", "color": "#0000ff", "strokeWidth": 2.8, "interpolate": "monotone", "orient": "vertical"},
         "encoding": {
           "x": {"field": "t", "type": "quantitative"},
           "y": {"field": "s", "type": "nominal"},
           "yOffset": {"field": "v", "type": "quantitative", "scale": {"domain": [-10, 10], "range": [50, 30]}},
           "detail": {"field": "s"},
           "order": {"field": "t", "type": "quantitative"}
         }},
        {"data": {"name": "ew_amp"},
         "mark": {"type": "text", "font": "DejaVu Sans", "fontWeight": "bold", "fontSize": 22, "color": "#0000ff", "align": "right", "baseline": "alphabetic", "dy": 25},
         "encoding": {"x": {"datum": 312, "type": "quantitative"}, "y": {"field": "s", "type": "nominal"}, "text": {"field": "s"}}},
        {"data": {"name": "ew_amp"},
         "mark": {"type": "text", "font": "DejaVu Sans", "fontSize": 14, "color": "#0000ff", "align": "left", "baseline": "alphabetic", "dy": 18},
         "encoding": {"x": {"datum": 323.5, "type": "quantitative"}, "y": {"field": "s", "type": "nominal"}, "text": {"field": "b"}}},
        {"data": {"name": "ew_amp"},
         "mark": {"type": "text", "font": "Liberation Serif", "fontSize": 14, "color": "#ff0000", "align": "left", "baseline": "alphabetic", "dy": 32},
         "encoding": {"x": {"datum": 324, "type": "quantitative"}, "y": {"field": "s", "type": "nominal"}, "text": {"field": "r"}}},
        {"data": {"name": "ew_amp"},
         "mark": {"type": "text", "font": "DejaVu Sans", "fontSize": 14, "color": "#000000", "align": "left", "baseline": "alphabetic", "dy": 46},
         "encoding": {"x": {"datum": 323.5, "type": "quantitative"}, "y": {"field": "s", "type": "nominal"}, "text": {"field": "k"}}},
        {"data": {"values": [{"c": "EW"}]},
         "mark": {"type": "text", "font": "DejaVu Sans", "fontWeight": "bold", "fontSize": 42, "color": "#000000", "align": "center", "baseline": "alphabetic", "dy": 47},
         "encoding": {"x": {"datum": 203, "type": "quantitative"}, "y": {"datum": "EW", "type": "nominal"}, "text": {"field": "c"}}}
      ],
      "resolve": {"scale": {"yOffset": "independent"}}
    },
    {
      "width": 1004, "height": 431,
      "layer": [
        {"data": {"name": "ns_syn_b"},
         "mark": {"type": "line", "color": "#1a1a1a", "strokeWidth": 1.2, "interpolate": "monotone", "orient": "vertical"},
         "encoding": {
           "x": {"field": "t", "type": "quantitative", "scale": {"domain": [0, 400], "nice": false, "zero": false},
                 "axis": {"values": [0, 50, 100, 150, 200, 250, 300, 350, 400], "labelExpr": "datum.value % 100 === 0 ? datum.label : ''",
                          "tickSize": {"condition": {"test": "datum.value % 100 === 0", "value": 14}, "value": 8},
                          "tickColor": "#000", "tickWidth": 1.3, "domainColor": "#000", "domainWidth": 1.3, "grid": false,
                          "labelFont": "DejaVu Sans", "labelFontWeight": "bold", "labelFontSize": 18, "labelColor": "#000", "labelPadding": 6,
                          "labelFlush": false, "labelOverlap": false,
                          "title": "time (sec)", "titleFont": "DejaVu Sans", "titleFontWeight": "bold", "titleFontSize": 16, "titleColor": "#000", "titlePadding": 3}},
           "y": {"field": "s", "type": "nominal",
                 "scale": {"domain": ["KEK", "EVR", "ITM", "SER", "VLS", "RLS", "NS"], "paddingInner": 0, "paddingOuter": 0.376, "align": 0, "round": false},
                 "axis": {"labels": false, "ticks": false, "title": null, "domain": true, "domainColor": "#000", "domainWidth": 1.5, "grid": false}},
           "yOffset": {"field": "v", "type": "quantitative", "scale": {"domain": [-10, 10], "range": [66.3, 46.3]}},
           "detail": {"field": "s"},
           "order": {"field": "t", "type": "quantitative"}
         }},
        {"data": {"name": "ns_syn_a"},
         "mark": {"type": "line", "color": "#ff0000", "strokeWidth": 1.3, "interpolate": "monotone", "orient": "vertical"},
         "encoding": {
           "x": {"field": "t", "type": "quantitative"},
           "y": {"field": "s", "type": "nominal"},
           "yOffset": {"field": "v", "type": "quantitative", "scale": {"domain": [-10, 10], "range": [66.3, 46.3]}},
           "detail": {"field": "s"},
           "order": {"field": "t", "type": "quantitative"}
         }},
        {"data": {"name": "ns_obs"},
         "mark": {"type": "line", "color": "#0000ff", "strokeWidth": 2.8, "interpolate": "monotone", "orient": "vertical"},
         "encoding": {
           "x": {"field": "t", "type": "quantitative"},
           "y": {"field": "s", "type": "nominal"},
           "yOffset": {"field": "v", "type": "quantitative", "scale": {"domain": [-10, 10], "range": [52, 32]}},
           "detail": {"field": "s"},
           "order": {"field": "t", "type": "quantitative"}
         }},
        {"data": {"name": "ns_amp"},
         "mark": {"type": "text", "font": "DejaVu Sans", "fontWeight": "bold", "fontSize": 22, "color": "#0000ff", "align": "right", "baseline": "alphabetic", "dy": 25.2},
         "encoding": {"x": {"datum": 315, "type": "quantitative"}, "y": {"field": "s", "type": "nominal"}, "text": {"field": "s"}}},
        {"data": {"name": "ns_amp"},
         "mark": {"type": "text", "font": "DejaVu Sans", "fontSize": 14, "color": "#0000ff", "align": "left", "baseline": "alphabetic", "dy": 18.2},
         "encoding": {"x": {"datum": 325.5, "type": "quantitative"}, "y": {"field": "s", "type": "nominal"}, "text": {"field": "b"}}},
        {"data": {"name": "ns_amp"},
         "mark": {"type": "text", "font": "Liberation Serif", "fontSize": 14, "color": "#ff0000", "align": "left", "baseline": "alphabetic", "dy": 33.2},
         "encoding": {"x": {"datum": 326, "type": "quantitative"}, "y": {"field": "s", "type": "nominal"}, "text": {"field": "r"}}},
        {"data": {"name": "ns_amp"},
         "mark": {"type": "text", "font": "DejaVu Sans", "fontSize": 14, "color": "#000000", "align": "left", "baseline": "alphabetic", "dy": 48.2},
         "encoding": {"x": {"datum": 325.5, "type": "quantitative"}, "y": {"field": "s", "type": "nominal"}, "text": {"field": "k"}}},
        {"data": {"values": [{"c": "NS"}]},
         "mark": {"type": "text", "font": "DejaVu Sans", "fontWeight": "bold", "fontSize": 42, "color": "#000000", "align": "center", "baseline": "alphabetic", "dy": 44.6},
         "encoding": {"x": {"datum": 201, "type": "quantitative"}, "y": {"datum": "NS", "type": "nominal"}, "text": {"field": "c"}}}
      ],
      "resolve": {"scale": {"yOffset": "independent"}}
    },
    {
      "width": 1004, "height": 429,
      "layer": [
        {"data": {"name": "z_syn_b"},
         "mark": {"type": "line", "color": "#1a1a1a", "strokeWidth": 1.2, "interpolate": "monotone", "orient": "vertical"},
         "encoding": {
           "x": {"field": "t", "type": "quantitative", "scale": {"domain": [0, 400], "nice": false, "zero": false},
                 "axis": {"values": [0, 50, 100, 150, 200, 250, 300, 350, 400], "labelExpr": "datum.value % 100 === 0 ? datum.label : ''",
                          "tickSize": {"condition": {"test": "datum.value % 100 === 0", "value": 14}, "value": 8},
                          "tickColor": "#000", "tickWidth": 1.3, "domainColor": "#000", "domainWidth": 1.3, "grid": false,
                          "labelFont": "DejaVu Sans", "labelFontWeight": "bold", "labelFontSize": 18, "labelColor": "#000", "labelPadding": 6,
                          "labelFlush": false, "labelOverlap": false,
                          "title": "time (sec)", "titleFont": "DejaVu Sans", "titleFontWeight": "bold", "titleFontSize": 16, "titleColor": "#000", "titlePadding": 3}},
           "y": {"field": "s", "type": "nominal",
                 "scale": {"domain": ["KEK", "EVR", "ITM", "SER", "VLS", "RLS", "Z"], "paddingInner": 0, "paddingOuter": 0.344, "align": 0, "round": false},
                 "axis": {"labels": false, "ticks": false, "title": null, "domain": true, "domainColor": "#000", "domainWidth": 1.5, "grid": false}},
           "yOffset": {"field": "v", "type": "quantitative", "scale": {"domain": [-10, 10], "range": [66.3, 46.3]}},
           "detail": {"field": "s"},
           "order": {"field": "t", "type": "quantitative"}
         }},
        {"data": {"name": "z_syn_a"},
         "mark": {"type": "line", "color": "#ff0000", "strokeWidth": 1.3, "interpolate": "monotone", "orient": "vertical"},
         "encoding": {
           "x": {"field": "t", "type": "quantitative"},
           "y": {"field": "s", "type": "nominal"},
           "yOffset": {"field": "v", "type": "quantitative", "scale": {"domain": [-10, 10], "range": [66.3, 46.3]}},
           "detail": {"field": "s"},
           "order": {"field": "t", "type": "quantitative"}
         }},
        {"data": {"name": "z_obs"},
         "mark": {"type": "line", "color": "#0000ff", "strokeWidth": 2.8, "interpolate": "monotone", "orient": "vertical"},
         "encoding": {
           "x": {"field": "t", "type": "quantitative"},
           "y": {"field": "s", "type": "nominal"},
           "yOffset": {"field": "v", "type": "quantitative", "scale": {"domain": [-10, 10], "range": [52, 32]}},
           "detail": {"field": "s"},
           "order": {"field": "t", "type": "quantitative"}
         }},
        {"data": {"name": "z_amp"},
         "mark": {"type": "text", "font": "DejaVu Sans", "fontWeight": "bold", "fontSize": 22, "color": "#0000ff", "align": "right", "baseline": "alphabetic", "dy": 26},
         "encoding": {"x": {"datum": 311.5, "type": "quantitative"}, "y": {"field": "s", "type": "nominal"}, "text": {"field": "s"}}},
        {"data": {"name": "z_amp"},
         "mark": {"type": "text", "font": "DejaVu Sans", "fontSize": 14, "color": "#0000ff", "align": "left", "baseline": "alphabetic", "dy": 19},
         "encoding": {"x": {"datum": 323.5, "type": "quantitative"}, "y": {"field": "s", "type": "nominal"}, "text": {"field": "b"}}},
        {"data": {"name": "z_amp"},
         "mark": {"type": "text", "font": "Liberation Serif", "fontSize": 14, "color": "#ff0000", "align": "left", "baseline": "alphabetic", "dy": 33},
         "encoding": {"x": {"datum": 324, "type": "quantitative"}, "y": {"field": "s", "type": "nominal"}, "text": {"field": "r"}}},
        {"data": {"name": "z_amp"},
         "mark": {"type": "text", "font": "DejaVu Sans", "fontSize": 14, "color": "#000000", "align": "left", "baseline": "alphabetic", "dy": 47},
         "encoding": {"x": {"datum": 323.5, "type": "quantitative"}, "y": {"field": "s", "type": "nominal"}, "text": {"field": "k"}}},
        {"data": {"values": [{"c": "Z"}]},
         "mark": {"type": "text", "font": "DejaVu Sans", "fontWeight": "bold", "fontSize": 42, "color": "#000000", "align": "center", "baseline": "alphabetic", "dy": 39.3},
         "encoding": {"x": {"datum": 201, "type": "quantitative"}, "y": {"datum": "Z", "type": "nominal"}, "text": {"field": "c"}}}
      ],
      "resolve": {"scale": {"yOffset": "independent"}}
    }
  ]
}
